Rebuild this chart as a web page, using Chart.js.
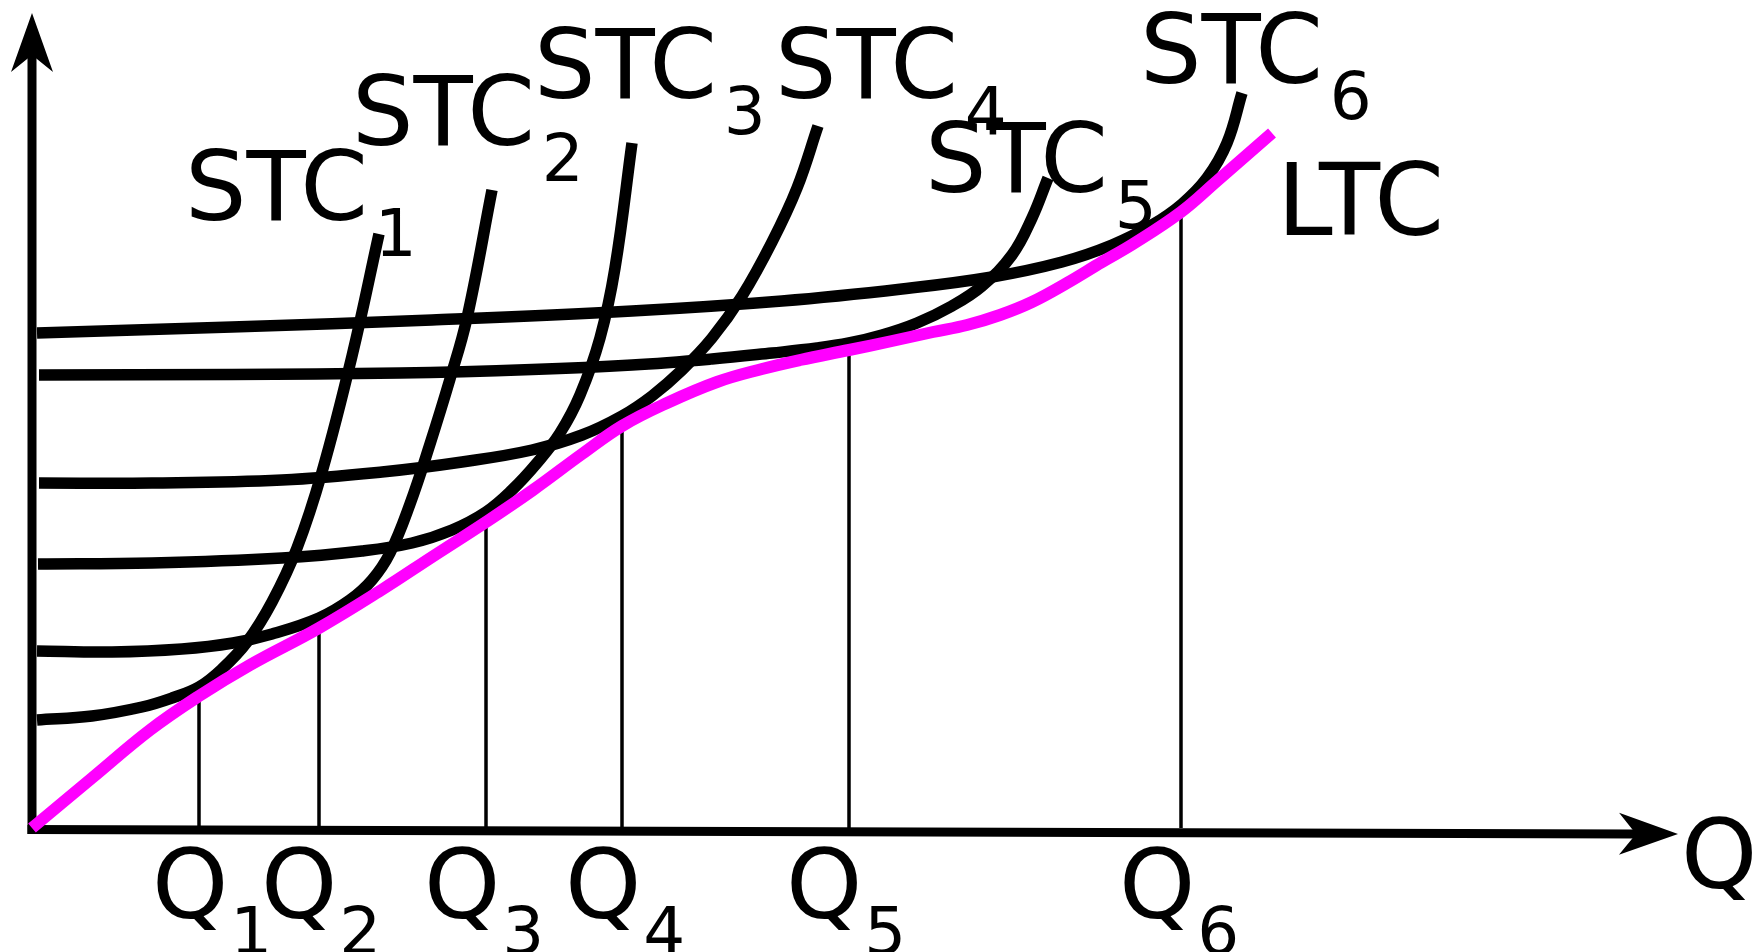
<!DOCTYPE html>
<html>
<head>
<meta charset="utf-8">
<script src="https://cdn.jsdelivr.net/npm/chart.js@4.4.1/dist/chart.umd.min.js"></script>
<style>
html, body { margin: 0; padding: 0; background: #fff; }
#wrap { width: 1752px; height: 952px; }
</style>
</head>
<body>
<div id="wrap"><canvas id="chart"></canvas></div>
<script>
// curvas de custo (x = quantidade Q, y = custo)
const ltcX = [0, 6, 11.8, 16.7, 21.8, 28.7, 35.1, 40, 45.4, 50.1, 55, 59, 63.5, 68.5, 73, 76.8, 81.7, 86, 90.1, 93.5, 96.8, 100, 103.5, 107, 110.1, 114.9, 118.5, 124];
const ltcY = [0, 5.0, 9.8, 13.2, 16.3, 20.0, 23.9, 27.1, 30.6, 33.8, 37.4, 40.2, 42.5, 44.6, 45.9, 46.8, 47.8, 48.7, 49.6, 50.3, 51.3, 52.6, 54.5, 56.6, 58.4, 61.6, 64.7, 69.5];

const stc1X = [0.5, 6, 11, 14, 16.7, 19, 21.5, 24, 26.5, 29, 32, 34.7];
const stc1Y = [10.8, 11.2, 12.1, 13.0, 14.1, 15.9, 18.6, 22.6, 28.0, 35.6, 47.2, 59.4];
const stc2X = [0.5, 8, 15, 20.1, 24, 28.7, 31.8, 34, 35.8, 37.8, 39.8, 41.8, 43.5, 46];
const stc2Y = [17.7, 17.6, 17.9, 18.5, 19.4, 21.0, 22.8, 24.8, 27.5, 32.4, 38.4, 44.9, 51.0, 63.8];
const stc3X = [0.6, 12, 25, 33, 38, 42, 45.4, 48, 50.5, 52.8, 54.8, 56.8, 58.3, 60];
const stc3Y = [26.4, 26.5, 27.0, 27.7, 28.5, 29.8, 31.6, 33.8, 36.5, 39.5, 43.3, 49.0, 56.0, 68.5];
const stc4X = [0.7, 12, 25, 35, 43, 50, 55, 59, 62, 65, 68, 71, 74, 76.5, 78.6];
const stc4Y = [34.5, 34.5, 34.8, 35.6, 36.6, 37.8, 39.3, 41.2, 43.2, 45.8, 49.0, 53.2, 58.6, 64.0, 70.2];
const stc5X = [0.7, 20, 36.8, 50, 60, 68, 74, 78.5, 81.7, 85, 88.5, 92, 95, 98, 100, 101.6];
const stc5Y = [45.3, 45.35, 45.5, 45.85, 46.3, 46.9, 47.5, 48.0, 48.5, 49.3, 50.5, 52.2, 54.2, 57.3, 61.0, 65.0];
const stc6X = [0.5, 20, 40, 60, 75, 87, 96, 103, 108, 112, 115, 117.5, 119.5, 121];
const stc6Y = [49.5, 50.1, 50.8, 51.7, 52.7, 53.9, 55.1, 56.6, 58.3, 60.3, 62.4, 65.0, 68.5, 73.5];

// pontos Q1..Q6 no eixo e altura da LTC em cada um
const qX = [16.7, 28.7, 45.4, 59, 81.7, 114.9];
const qTopo = [13.2, 20, 30.6, 40.4, 48, 62];
const qNomes = ['1', '2', '3', '4', '5', '6'];

// rótulos das curvas
const rotulos = [
    {txt: 'STC', sub: '1', x: 15.3, y: 60.8},
    {txt: 'STC', sub: '2', x: 32, y: 68.3},
    {txt: 'STC', sub: '3', x: 50.2, y: 73},
    {txt: 'STC', sub: '4', x: 74.3, y: 73},
    {txt: 'STC', sub: '5', x: 89.3, y: 63.6},
    {txt: 'STC', sub: '6', x: 110.8, y: 74.5},
    {txt: 'LTC', sub: '', x: 124.5, y: 59.3, tam: 100}
];
const qDesloc = [-47, -58, -62, -57, -63, -62]; // deslocamento do "Q" em px

function pontos(xs, ys) {
    return xs.map((x, i) => ({x: x, y: ys[i]}));
}

function curva(xs, ys, cor, larg, ordem) {
    return {
        data: pontos(xs, ys),
        borderColor: cor,
        borderWidth: larg,
        pointRadius: 0,
        tension: 0.4,
        fill: false,
        order: ordem
    };
}

let datasets = [];
datasets.push(curva(ltcX, ltcY, '#ff00ff', 12, 0));
[[stc1X, stc1Y], [stc2X, stc2Y], [stc3X, stc3Y], [stc4X, stc4Y], [stc5X, stc5Y], [stc6X, stc6Y]]
    .forEach(c => datasets.push(curva(c[0], c[1], '#000', 11.5, 1)));
// linhas verticais de Q até a LTC
qX.forEach((q, i) => {
    datasets.push({
        data: [{x: q, y: 0}, {x: q, y: qTopo[i]}],
        borderColor: '#000', borderWidth: 3.5, pointRadius: 0, tension: 0, order: 2
    });
});

function seta(ctx, x0, y0, x1, y1) {
    let ang = Math.atan2(y1 - y0, x1 - x0);
    let c = Math.cos(ang), s = Math.sin(ang);
    ctx.beginPath();
    ctx.moveTo(x0, y0);
    ctx.lineTo(x1 - 42 * c, y1 - 42 * s);
    ctx.stroke();
    ctx.beginPath();
    ctx.moveTo(x1, y1);
    ctx.lineTo(x1 - 59 * c - 21 * s, y1 - 59 * s + 21 * c);
    ctx.lineTo(x1 - 42 * c, y1 - 42 * s);
    ctx.lineTo(x1 - 59 * c + 21 * s, y1 - 59 * s - 21 * c);
    ctx.closePath();
    ctx.fill();
}

const eixos = {
    id: 'eixos',
    beforeDatasetsDraw(chart) {
        let ctx = chart.ctx, sx = chart.scales.x, sy = chart.scales.y;
        ctx.save();
        ctx.strokeStyle = '#000';
        ctx.fillStyle = '#000';
        ctx.lineWidth = 9;
        ctx.lineCap = 'butt';
        seta(ctx, sx.getPixelForValue(0), sy.getPixelForValue(-0.6), sx.getPixelForValue(0), sy.getPixelForValue(81.5));
        seta(ctx, sx.getPixelForValue(-0.45), sy.getPixelForValue(-0.15), sx.getPixelForValue(164.6), sy.getPixelForValue(-0.6));
        ctx.restore();
    },
    afterDatasetsDraw(chart) {
        let ctx = chart.ctx, sx = chart.scales.x, sy = chart.scales.y;
        ctx.save();
        ctx.fillStyle = '#000';
        ctx.textBaseline = 'alphabetic';
        ctx.textAlign = 'left';
        function escreve(txt, sub, px, py, dx, tam) {
            ctx.font = (tam || 97) + 'px "DejaVu Sans"';
            ctx.fillText(txt, px, py);
            let w = ctx.measureText(txt).width;
            if (sub) {
                ctx.font = '66px "DejaVu Sans"';
                ctx.fillText(sub, px + w + dx, py + 36);
            }
        }
        rotulos.forEach(r => escreve(r.txt, r.sub, sx.getPixelForValue(r.x), sy.getPixelForValue(r.y), 7, r.tam));
        qX.forEach((q, i) => escreve('Q', qNomes[i], sx.getPixelForValue(q) + qDesloc[i], sy.getPixelForValue(-9), 2));
        escreve('Q', '', sx.getPixelForValue(164.9), sy.getPixelForValue(-6), 0);
        ctx.restore();
    }
};

let ctx = document.getElementById('chart').getContext('2d');
let grafico = new Chart(ctx, {
    type: 'line',
    data: {datasets: datasets},
    options: {
        responsive: true,
        maintainAspectRatio: false,
        devicePixelRatio: 1,
        animation: false,
        layout: {padding: 0},
        plugins: {legend: {display: false}, tooltip: {enabled: false}},
        scales: {
            x: {type: 'linear', min: -3.2, max: 172, display: false},
            y: {type: 'linear', min: -12.4, max: 82.8, display: false}
        }
    },
    plugins: [eixos]
});
</script>
</body>
</html>
